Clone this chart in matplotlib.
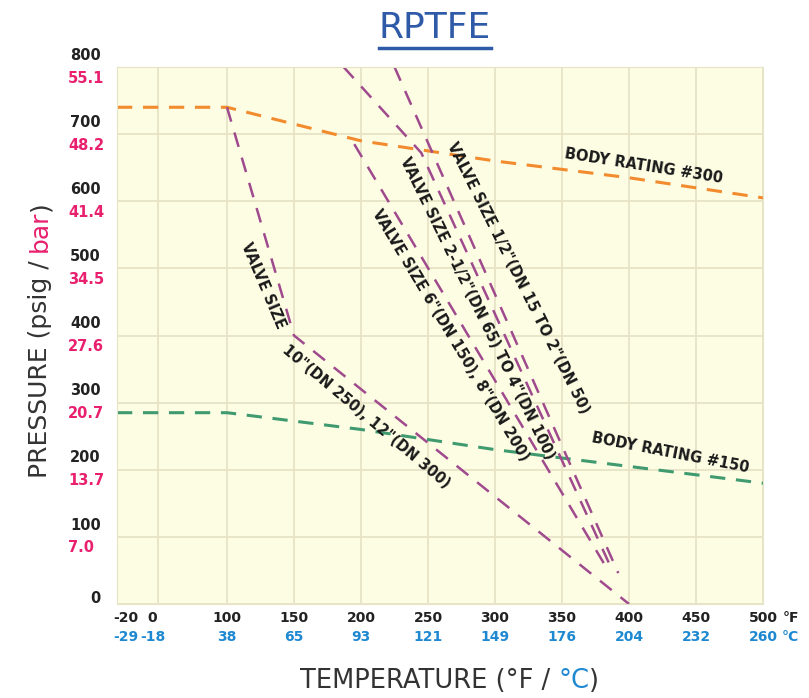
import numpy as np
import matplotlib.pyplot as plt
from matplotlib.lines import Line2D

# axis ticks
temp_f = [-20, 0, 100, 150, 200, 250, 300, 350, 400, 450, 500]
temp_c = ["-29", "-18", "38", "65", "93", "121", "149", "176", "204", "232", "260"]
psi_ticks = [0, 100, 200, 300, 400, 500, 600, 700, 800]
bar_labels = ["", "7.0", "13.7", "20.7", "27.6", "34.5", "41.4", "48.2", "55.1"]

# body ratings
body300_t = [-20, 100, 200, 300, 400, 500]
body300_p = [740, 740, 690, 660, 635, 605]
body150_t = [-20, 100, 200, 300, 400, 500]
body150_p = [285, 285, 260, 230, 205, 180]

# seat ratings by valve size
v10_t = [100, 150, 400]
v10_p = [740, 400, 0]
v6_t = [195, 385]
v6_p = [685, 48]
v25_t = [187, 245, 388]
v25_p = [800, 672, 48]
v05_t = [225, 392]
v05_p = [800, 46]

PINK = '#e8206e'
BLUE = '#1e88d0'
ORANGE = '#f28a2e'
GREEN = '#3f9a70'
PURPLE = '#a04a8e'
GRID = '#e6e3c6'

# the temperature axis is not linear below 100 F
_bf = np.array([-20.0, 0.0, 100.0, 500.0])
_bp = np.array([0.0, 41.0, 110.0, 646.0])


def fwd(x):
    x = np.asarray(x, dtype=float)
    y = np.interp(x, _bf, _bp)
    y = np.where(x < _bf[0], _bp[0] + (x - _bf[0]) * 2.05, y)
    y = np.where(x > _bf[-1], _bp[-1] + (x - _bf[-1]) * 1.34, y)
    return y


def inv(y):
    y = np.asarray(y, dtype=float)
    x = np.interp(y, _bp, _bf)
    x = np.where(y < _bp[0], _bf[0] + (y - _bp[0]) / 2.05, x)
    x = np.where(y > _bp[-1], _bf[-1] + (y - _bp[-1]) / 1.34, x)
    return x


fig = plt.figure(figsize=(8.09, 6.98), dpi=100)
ax = fig.add_axes([117 / 809, 1 - 604 / 698, 646 / 809, 537 / 698])
ax.set_facecolor('#fdfde4')
ax.set_xscale('function', functions=(fwd, inv))
ax.set_xlim(-20, 500)
ax.set_ylim(0, 800)

ax.set_xticks(temp_f)
ax.set_yticks(psi_ticks)
ax.grid(True, color=GRID, lw=1.3)
ax.set_axisbelow(True)
ax.tick_params(length=0, labelleft=False, labelbottom=False)
for s in ax.spines.values():
    s.set_color(GRID)

ax.plot(body300_t, body300_p, color=ORANGE, lw=2.2, dashes=(5, 3.5))
ax.plot(body150_t, body150_p, color=GREEN, lw=2.2, dashes=(5, 3.5))
for t, p in [(v10_t, v10_p), (v6_t, v6_p), (v25_t, v25_p), (v05_t, v05_p)]:
    ax.plot(t, p, color=PURPLE, lw=1.8, dashes=(6, 4.5))

lab = dict(fontsize=10.5, fontweight='bold', color='#1a1a1a',
           ha='center', va='center', rotation_mode='anchor')
ax.text(411, 653, 'BODY RATING #300', rotation=-9, **lab)
ax.text(431, 225, 'BODY RATING #150', rotation=-11, **lab)
ax.text(127, 474, 'VALVE SIZE', rotation=-67, **lab)
ax.text(204, 279, '10"(DN 250), 12"(DN 300)', rotation=-40, **lab)
ax.text(267, 401, 'VALVE SIZE 6"(DN 150), 8"(DN 200)', rotation=-59, **lab)
ax.text(287, 441, 'VALVE SIZE 2-1/2"(DN 65) TO 4"(DN 100)', rotation=-64, **lab)
ax.text(317, 486, 'VALVE SIZE 1/2"(DN 15 TO 2"(DN 50)', rotation=-63.5, **lab)

# y tick labels: psig above the grid line, bar below
ytr = ax.get_yaxis_transform()
for p, b in zip(psi_ticks, bar_labels):
    dy = 4 if p == 0 else 8.5
    ax.annotate(str(p), xy=(-0.025, p), xycoords=ytr, xytext=(0, dy),
                textcoords='offset points', ha='right', va='center',
                fontsize=10.5, fontweight='bold', color='#222222',
                annotation_clip=False)
    if b:
        ax.annotate(b, xy=(-0.076, p), xycoords=ytr, xytext=(0, -8),
                    textcoords='offset points', ha='left', va='center',
                    fontsize=10.5, fontweight='bold', color=PINK,
                    annotation_clip=False)

# x tick labels: F row and C row
xtr = ax.get_xaxis_transform()
for t, c in zip(temp_f, temp_c):
    dx = 6 if t == -20 else (-4 if t == 0 else 0)
    ax.annotate(str(t), xy=(t, 0), xycoords=xtr, xytext=(dx, -10),
                textcoords='offset points', ha='center', va='center',
                fontsize=10, fontweight='bold', color='#222222',
                annotation_clip=False)
    ax.annotate(c, xy=(t, 0), xycoords=xtr, xytext=(dx, -24),
                textcoords='offset points', ha='center', va='center',
                fontsize=10, fontweight='bold', color=BLUE,
                annotation_clip=False)
ax.annotate('°F', xy=(500, 0), xycoords=xtr, xytext=(20, -10),
            textcoords='offset points', ha='center', va='center',
            fontsize=10, fontweight='bold', color='#222222', annotation_clip=False)
ax.annotate('°C', xy=(500, 0), xycoords=xtr, xytext=(20, -24),
            textcoords='offset points', ha='center', va='center',
            fontsize=10, fontweight='bold', color=BLUE, annotation_clip=False)

# axis titles with coloured parts
x1 = fig.text(300 / 809, 1 - 681 / 698, 'TEMPERATURE (°F / ', fontsize=18.5,
              color='#333333', va='center', ha='left')
x2 = ax.annotate('°C', xy=(1, 0), xycoords=x1, va='bottom', ha='left',
                 fontsize=18.5, color=BLUE)
ax.annotate(')', xy=(1, 0), xycoords=x2, va='bottom', ha='left',
            fontsize=18.5, color='#333333')

y1 = fig.text(40 / 809, 1 - 478 / 698, 'PRESSURE (psig / ', fontsize=18,
              color='#333333', rotation=90, ha='center', va='bottom')
y2 = ax.annotate('bar', xy=(0, 1), xycoords=y1, va='bottom', ha='left',
                 rotation=90, fontsize=18, color=PINK)
ax.annotate(')', xy=(0, 1), xycoords=y2, va='bottom', ha='left',
            rotation=90, fontsize=18, color='#333333')

title = fig.text(435 / 809, 1 - 28 / 698, 'RPTFE', fontsize=26, color='#2e5aa8',
                 ha='center', va='center')
fig.canvas.draw()
bb = title.get_window_extent().transformed(fig.transFigure.inverted())
fig.add_artist(Line2D([bb.x0, bb.x1], [1 - 48 / 698] * 2, color='#2e5aa8', lw=2.5))

fig.savefig('out.png', dpi=100)
